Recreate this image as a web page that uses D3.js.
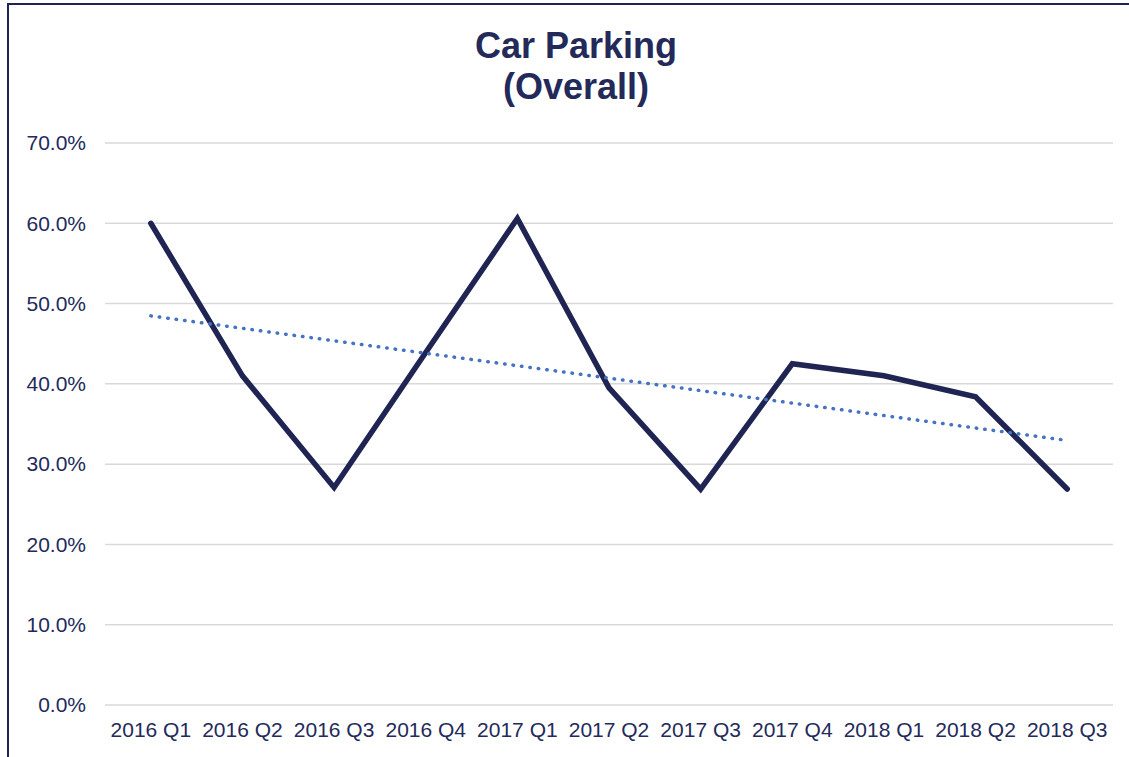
<!DOCTYPE html>
<html>
<head>
<meta charset="utf-8">
<script src="https://cdn.jsdelivr.net/npm/d3@7"></script>
<style>
  html, body { margin: 0; padding: 0; background: #fff; overflow: hidden; }
  svg { display: block; }
</style>
</head>
<body>
<svg id="chart" width="1129" height="757"></svg>
<script>
// ---- Data ----
const categories = ["2016 Q1","2016 Q2","2016 Q3","2016 Q4","2017 Q1","2017 Q2","2017 Q3","2017 Q4","2018 Q1","2018 Q2","2018 Q3"];
const values = [60.0, 41.0, 27.1, 43.9, 60.6, 39.5, 26.9, 42.5, 41.0, 38.4, 26.9];
const yTicks = [0, 10, 20, 30, 40, 50, 60, 70];
const titleLines = ["Car Parking", "(Overall)"];

// ---- Layout ----
const W = 1129, H = 757;
const plot = { left: 105, right: 1113, top: 143, bottom: 705 };
const navy = "#1F2453";
const textColor = "#232A5A";

const svg = d3.select("#chart");

// chart border (extends past the right and bottom edges)
svg.append("rect")
  .attr("x", 8).attr("y", 4)
  .attr("width", W + 20).attr("height", H + 20)
  .attr("fill", "none")
  .attr("stroke", navy)
  .attr("stroke-width", 2);

const x = d3.scaleBand().domain(categories).range([plot.left, plot.right]).padding(0);
const y = d3.scaleLinear().domain([0, 70]).range([plot.bottom, plot.top]);

// title
svg.append("g").selectAll("text").data(titleLines).join("text")
  .attr("x", 576)
  .attr("y", (d, i) => 58 + i * 41)
  .attr("text-anchor", "middle")
  .attr("font-family", "Liberation Sans, Arial, sans-serif")
  .attr("font-weight", "bold")
  .attr("font-size", 36)
  .attr("fill", textColor)
  .text(d => d);

// gridlines
svg.append("g").selectAll("line").data(yTicks).join("line")
  .attr("x1", plot.left).attr("x2", plot.right)
  .attr("y1", d => y(d)).attr("y2", d => y(d))
  .attr("stroke", "#D9D9D9")
  .attr("stroke-width", 1.5);

// y axis
const yAxis = d3.axisLeft(y).tickValues(yTicks).tickSize(0).tickPadding(19)
  .tickFormat(d => d.toFixed(1) + "%");
const gy = svg.append("g").attr("transform", `translate(${plot.left},0)`).call(yAxis);
gy.select(".domain").remove();
gy.selectAll("text")
  .attr("font-family", "Liberation Sans, Arial, sans-serif")
  .attr("font-size", 21)
  .attr("fill", textColor);

// x axis
const xAxis = d3.axisBottom(x).tickSize(0).tickPadding(17);
const gx = svg.append("g").attr("transform", `translate(0,${plot.bottom})`).call(xAxis);
gx.select(".domain").remove();
gx.selectAll("text")
  .attr("font-family", "Liberation Sans, Arial, sans-serif")
  .attr("font-size", 21)
  .attr("fill", textColor);

const cx = d => x(d) + x.bandwidth() / 2;

// data line
const data = categories.map((c, i) => ({ c, v: values[i] }));
svg.append("path")
  .datum(data)
  .attr("fill", "none")
  .attr("stroke", navy)
  .attr("stroke-width", 5.5)
  .attr("stroke-linejoin", "miter")
  .attr("stroke-linecap", "round")
  .attr("d", d3.line().x(d => cx(d.c)).y(d => y(d.v)));

// linear trendline (least squares on the series)
const n = values.length;
const xs = d3.range(n);
const mx = d3.mean(xs), my = d3.mean(values);
const slope = d3.sum(xs, i => (i - mx) * (values[i] - my)) / d3.sum(xs, i => (i - mx) ** 2);
const intercept = my - slope * mx;
const trend = [0, n - 1].map(i => ({ c: categories[i], v: intercept + slope * i }));
svg.append("path")
  .datum(trend)
  .attr("fill", "none")
  .attr("stroke", "#4472C4")
  .attr("stroke-width", 3.5)
  .attr("stroke-linecap", "round")
  .attr("stroke-dasharray", "0.5 8")
  .attr("d", d3.line().x(d => cx(d.c)).y(d => y(d.v)));
</script>
</body>
</html>
